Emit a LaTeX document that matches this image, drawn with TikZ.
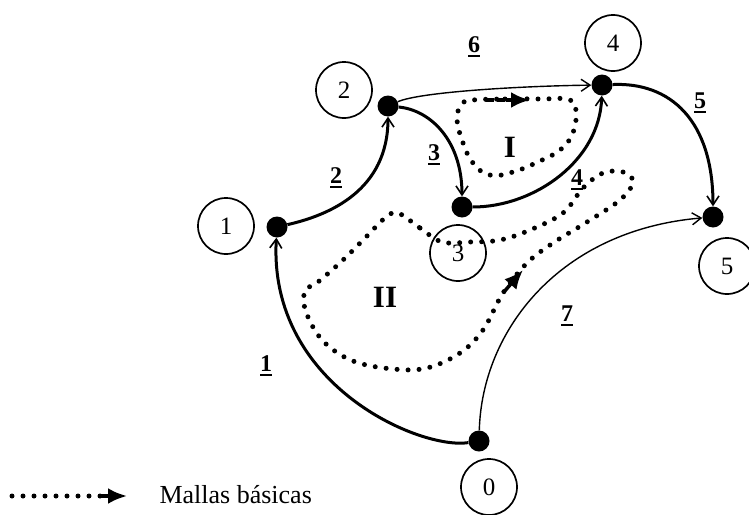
\documentclass[tikz,border=0pt]{standalone}
\usepackage{fontspec}
\setmainfont{Liberation Serif}
\usetikzlibrary{arrows.meta}
\newsavebox\numbox
% bold digit with a heavy underline, as used for branch numbers
\newcommand\ulnum[1]{\sbox\numbox{#1}\rlap{\usebox\numbox}\rule[-4pt]{\wd\numbox}{2pt}}

\begin{document}
\begin{tikzpicture}[x=1pt,y=-1pt,
  vertex/.style={circle,fill=black,inner sep=0pt,minimum size=21pt},
  tag/.style={circle,draw,line width=1.7pt,inner sep=0pt,minimum size=56pt,
    font=\fontsize{25}{25}\selectfont},
  branch/.style={line width=3pt,
    -{Straight Barb[length=9pt,width=12pt,line width=1.6pt]}},
  thinbranch/.style={line width=1.4pt,
    -{Straight Barb[length=9pt,width=12pt,line width=1.4pt]}},
  elabel/.style={font=\fontsize{24}{24}\selectfont\bfseries},
  mesh/.style={font=\fontsize{31}{31}\selectfont\bfseries},
  dots/.style={line width=5pt,line cap=round,dash pattern=on 0pt off 11pt},
  looptip/.style={line width=3.5pt,-{Latex[length=19pt,width=16pt]}},
]
\useasboundingbox (0,0) rectangle (749,514);

% junctions
\node[vertex] (n0) at (479,441) {};
\node[vertex] (n1) at (277,227) {};
\node[vertex] (n2) at (388,106) {};
\node[vertex] (n3) at (462,207) {};
\node[vertex] (n4) at (602,85) {};
\node[vertex] (n5) at (713,217) {};

% junction numbers
\node[tag] (t0) at (489,487) {0};
\node[tag] (t1) at (226,226) {1};
\node[tag] (t2) at (344,90) {2};
\node[tag] (t3) at (458,253) {3};
\node[tag] (t4) at (613,43) {4};
\node[tag] (t5) at (727,266) {5};

% branches of the tree (thick) and links (thin)
\draw[branch] (n0) .. controls (420,450) and (268,385) .. (n1);
\draw[branch] (n1) .. controls (330,215) and (388,190) .. (n2);
\draw[branch] (n2) .. controls (430,110) and (462,140) .. (n3);
\draw[branch] (n3) .. controls (535,207) and (600,160) .. (n4);
\draw[branch] (n4) .. controls (670,82) and (713,120) .. (n5);
\draw[thinbranch] (n2) .. controls (420,92) and (520,86) .. (n4);
\draw[thinbranch] (n0) .. controls (482,330) and (560,230) .. (n5);

% branch numbers
\node[elabel] (b1) at (266,366) {\ulnum{1}};
\node[elabel] (b2) at (336,178) {\ulnum{2}};
\node[elabel] (b3) at (434,155) {\ulnum{3}};
\node[elabel] (b4) at (577,180) {\ulnum{4}};
\node[elabel] (b5) at (700,103) {\ulnum{5}};
\node[elabel] (b6) at (474,47) {\ulnum{6}};
\node[elabel] (b7) at (567,316) {\ulnum{7}};

% basic mesh I
\draw[dots] plot[smooth cycle,tension=0.7] coordinates {
  (473,100) (505,99) (540,99) (570,100) (576,115) (572,135) (560,150)
  (540,161) (513,172) (490,175) (473,163) (462,140) (457,117) (463,103)};
\draw[line width=3.5pt,dash pattern=on 8pt off 3pt] (486,100) -- (512,100);
\draw[looptip] (506,100) -- (530,100);
\node[mesh] (m1) at (510,147) {I};

% basic mesh II
\draw[dots] plot[smooth cycle,tension=0.6] coordinates {
  (398,213) (420,228) (442,242) (470,242) (500,240) (530,230) (563,213)
  (583,188) (603,173) (623,172) (633,182) (620,200) (587,222) (553,243)
  (527,263) (503,293) (483,330) (460,353) (427,368) (393,369) (353,361)
  (323,341) (306,312) (305,291) (318,282) (343,260) (367,236) (385,218)};
\draw[looptip] (503,293) -- (523,270);
\node[mesh] (m2) at (385,297) {II};

% key
\coordinate (k0) at (12,496);
\coordinate (k1) at (102,496);
\coordinate (k2) at (127,496);
\draw[dots] (k0) -- (k1);
\draw[looptip] (k1) -- (k2);
\node[anchor=base west,font=\fontsize{26}{26}\selectfont] (key) at (156,503) {Mallas básicas};
\end{tikzpicture}
\end{document}
